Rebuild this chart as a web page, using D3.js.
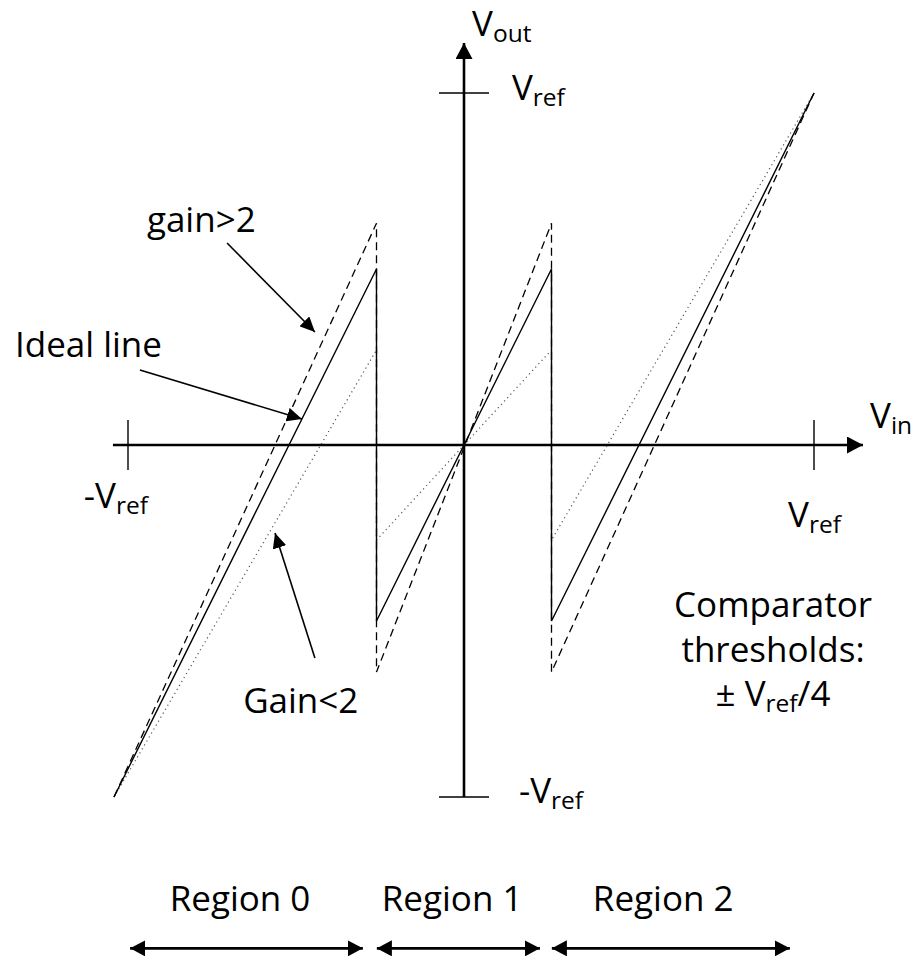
<!DOCTYPE html>
<html>
<head>
<meta charset="utf-8">
<script src="https://cdn.jsdelivr.net/npm/d3@7"></script>
<style>
  body { margin: 0; background: #fff; }
  text { font-family: "Open Sans", Lato, sans-serif; fill: #000; }
</style>
</head>
<body>
<div id="chart"></div>
<script>
// Transfer curves (Vin, Vout) in units of Vref
var idealLine = [[-1, -1], [-0.25, 0.5], [-0.25, -0.5], [0.25, 0.5], [0.25, -0.5], [1, 1]];
var gainHigh  = [[-1, -1], [-0.25, 0.63], [-0.25, -0.645], [0.25, 0.63], [0.25, -0.645], [1, 1]];
var gainLow   = [[-1, -1], [-0.25, 0.27], [-0.25, -0.27], [0.25, 0.27], [0.25, -0.27], [1, 1]];

// Axes
var xAxisSpan = [-1.003, 1.14];
var yAxisSpan = [-1, 1.142];
var xTicks = [-0.96, 1];
var yTicks = [-1, 1];

// Axis / tick labels: [parts], position in data units
var axisLabels = [
    { parts: [["V"], ["out", 1]], x: 0.023, y: 1.162, anchor: "start" },
    { parts: [["V"], ["ref", 1]], x: 0.137, y: 0.98, anchor: "start" },
    { parts: [["-V"], ["ref", 1]], x: 0.157, y: -1.017, anchor: "start" },
    { parts: [["V"], ["in", 1]], x: 1.16, y: 0.048, anchor: "start" },
    { parts: [["V"], ["ref", 1]], x: 0.926, y: -0.233, anchor: "start" },
    { parts: [["-V"], ["ref", 1]], x: -0.903, y: -0.179, anchor: "end" }
];

// Annotation pointers
var pointers = [
    { from: [-0.677, 0.574], to: [-0.426, 0.321] },
    { from: [-0.926, 0.213], to: [-0.463, 0.074] },
    { from: [-0.426, -0.605], to: [-0.54, -0.25] }
];
var notes = [
    { parts: [["gain>2"]], x: -0.906, y: 0.605, anchor: "start" },
    { parts: [["Ideal line"]], x: -1.283, y: 0.25, anchor: "start" },
    { parts: [["Gain<2"]], x: -0.631, y: -0.761, anchor: "start" },
    { parts: [["Comparator"]], x: 0.883, y: -0.489, anchor: "middle" },
    { parts: [["thresholds:"]], x: 0.883, y: -0.616, anchor: "middle" },
    { parts: [["± V"], ["ref", 1], ["/4"]], x: 0.883, y: -0.741, anchor: "middle" }
];

// Regions
var regions = ["Region 0", "Region 1", "Region 2"];
var regionSpans = [[-0.954, -0.289], [-0.249, 0.217], [0.251, 0.931]];
var regionCenters = [-0.64, -0.034, 0.569];
var regionLabelY = -1.325;
var regionArrowY = -1.43;

function init() {
    var w = 915;
    var h = 962;

    var xScale = d3.scaleLinear().domain([-1, 1]).range([114, 814]);
    var yScale = d3.scaleLinear().domain([-1, 1]).range([797, 93]);

    var svg = d3.select("#chart")
        .append("svg")
        .attr("width", w)
        .attr("height", h);

    // arrowhead markers
    var defs = svg.append("defs");
    function marker(id, len, wid, reverse) {
        defs.append("marker")
            .attr("id", id)
            .attr("markerUnits", "userSpaceOnUse")
            .attr("viewBox", "0 0 " + len + " " + wid)
            .attr("refX", reverse ? 0 : len)
            .attr("refY", wid / 2)
            .attr("markerWidth", len)
            .attr("markerHeight", wid)
            .attr("orient", "auto")
            .append("path")
            .attr("d", reverse
                ? "M" + len + ",0L0," + (wid / 2) + "L" + len + "," + wid + "Z"
                : "M0,0L" + len + "," + (wid / 2) + "L0," + wid + "Z")
            .attr("fill", "#000");
    }
    marker("axisHead", 16, 17, false);
    marker("noteHead", 15, 14, false);
    marker("spanEnd", 15, 16, false);
    marker("spanStart", 15, 16, true);

    var line = d3.line()
        .x(function(d) { return xScale(d[0]); })
        .y(function(d) { return yScale(d[1]); });

    // Axes
    svg.append("line")
        .attr("x1", xScale(xAxisSpan[0])).attr("y1", yScale(0))
        .attr("x2", xScale(xAxisSpan[1])).attr("y2", yScale(0))
        .attr("stroke", "#000").attr("stroke-width", 2.6)
        .attr("marker-end", "url(#axisHead)");
    svg.append("line")
        .attr("x1", xScale(0)).attr("y1", yScale(yAxisSpan[0]))
        .attr("x2", xScale(0)).attr("y2", yScale(yAxisSpan[1]))
        .attr("stroke", "#000").attr("stroke-width", 2.6)
        .attr("marker-end", "url(#axisHead)");

    // Ticks
    svg.selectAll(".xtick").data(xTicks).enter().append("line")
        .attr("class", "xtick")
        .attr("x1", function(d) { return xScale(d); })
        .attr("x2", function(d) { return xScale(d); })
        .attr("y1", yScale(0) - 25).attr("y2", yScale(0) + 25)
        .attr("stroke", "#000").attr("stroke-width", 1.4);
    svg.selectAll(".ytick").data(yTicks).enter().append("line")
        .attr("class", "ytick")
        .attr("y1", function(d) { return yScale(d); })
        .attr("y2", function(d) { return yScale(d); })
        .attr("x1", xScale(0) - 25).attr("x2", xScale(0) + 25)
        .attr("stroke", "#000").attr("stroke-width", 1.4);

    // Curves
    svg.append("path").datum(gainLow)
        .attr("d", line).attr("fill", "none")
        .attr("stroke", "#555").attr("stroke-width", 1.2)
        .attr("stroke-dasharray", "1.2,3.4");
    svg.append("path").datum(gainHigh)
        .attr("d", line).attr("fill", "none")
        .attr("stroke", "#000").attr("stroke-width", 1.3)
        .attr("stroke-dasharray", "8,5");
    svg.append("path").datum(idealLine)
        .attr("d", line).attr("fill", "none")
        .attr("stroke", "#000").attr("stroke-width", 1.4);

    // Rich text helper (subscripts)
    function rich(d, size) {
        var t = svg.append("text")
            .attr("x", xScale(d.x))
            .attr("y", yScale(d.y))
            .attr("text-anchor", d.anchor)
            .style("font-size", size + "px");
        var shift = 0;
        d.parts.forEach(function(p) {
            var sub = p[1] === 1;
            var dy = sub ? 6 - shift : -shift;
            shift = sub ? 6 : 0;
            t.append("tspan")
                .attr("dy", dy)
                .style("font-size", sub ? (size * 0.7) + "px" : null)
                .text(p[0]);
        });
    }

    axisLabels.forEach(function(d) { rich(d, 35); });
    notes.forEach(function(d) { rich(d, 35); });

    // Pointer arrows
    svg.selectAll(".pointer").data(pointers).enter().append("line")
        .attr("class", "pointer")
        .attr("x1", function(d) { return xScale(d.from[0]); })
        .attr("y1", function(d) { return yScale(d.from[1]); })
        .attr("x2", function(d) { return xScale(d.to[0]); })
        .attr("y2", function(d) { return yScale(d.to[1]); })
        .attr("stroke", "#000").attr("stroke-width", 1.6)
        .attr("marker-end", "url(#noteHead)");

    // Regions
    svg.selectAll(".span").data(regionSpans).enter().append("line")
        .attr("class", "span")
        .attr("x1", function(d) { return xScale(d[0]); })
        .attr("x2", function(d) { return xScale(d[1]); })
        .attr("y1", yScale(regionArrowY)).attr("y2", yScale(regionArrowY))
        .attr("stroke", "#000").attr("stroke-width", 2.6)
        .attr("marker-start", "url(#spanStart)")
        .attr("marker-end", "url(#spanEnd)");

    svg.selectAll(".region").data(regions).enter().append("text")
        .attr("class", "region")
        .attr("x", function(d, i) { return xScale(regionCenters[i]); })
        .attr("y", yScale(regionLabelY))
        .attr("text-anchor", "middle")
        .style("font-size", "35px")
        .text(function(d) { return d; });
}

window.onload = init;
</script>
</body>
</html>
